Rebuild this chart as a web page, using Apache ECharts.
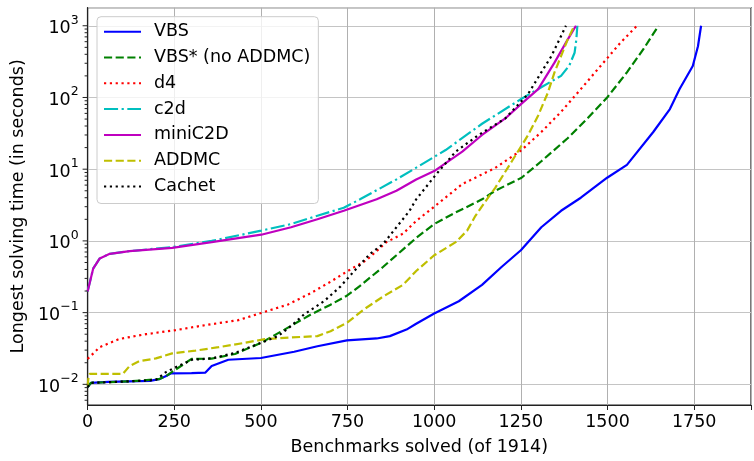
<!DOCTYPE html>
<html>
<head>
<meta charset="utf-8">
<script src="https://cdn.jsdelivr.net/npm/echarts@6/dist/echarts.min.js"></script>
<style>html,body{margin:0;padding:0;background:#fff}#c{width:754px;height:461px}</style>
</head>
<body>
<div id="c"></div>
<script>
const seriesNames = ['VBS', 'VBS* (no ADDMC)', 'd4', 'c2d', 'miniC2D', 'ADDMC', 'Cachet'];
const xTicks = [0, 250, 500, 750, 1000, 1250, 1500, 1750];
const yTicks = [0.01, 0.1, 1, 10, 100, 1000];

const vbs = [[0,0.0092],[10,0.0105],[60,0.0108],[120,0.011],[180,0.0112],[206,0.0118],[225,0.013],[240,0.0142],[300,0.0143],[340,0.0146],[358,0.018],[406,0.022],[500,0.0233],[596,0.0285],[663,0.034],[748,0.041],[834,0.0436],[872,0.047],[920,0.058],[948,0.07],[1000,0.097],[1071,0.144],[1138,0.244],[1195,0.436],[1250,0.74],[1309,1.55],[1366,2.63],[1423,4.0],[1499,7.6],[1556,11.5],[1632,33],[1680,69],[1708,131],[1746,275],[1761,518],[1770,1000]];
const vbsStar = [[0,0.0092],[10,0.0105],[120,0.011],[206,0.0118],[226,0.013],[254,0.0161],[300,0.0226],[358,0.0228],[425,0.0265],[501,0.038],[568,0.058],[644,0.094],[701,0.129],[748,0.172],[786,0.236],[853,0.436],[891,0.63],[948,1.1],[1000,1.72],[1062,2.5],[1090,2.9],[1138,3.8],[1176,5.0],[1252,7.6],[1309,12.9],[1385,27],[1442,51],[1499,100],[1556,224],[1603,467],[1647,1000]];
const d4 = [[0,0.0226],[35,0.033],[92,0.043],[168,0.05],[254,0.057],[340,0.067],[435,0.0785],[501,0.099],[577,0.129],[644,0.187],[701,0.27],[758,0.40],[805,0.54],[862,0.96],[910,1.26],[948,1.9],[1000,3.0],[1081,6.2],[1176,10.4],[1252,18.5],[1309,33],[1366,63],[1423,131],[1480,275],[1537,577],[1585,1000]];
const c2d = [[0,0.197],[16,0.41],[35,0.57],[64,0.66],[121,0.72],[244,0.82],[358,1.0],[501,1.39],[587,1.72],[663,2.24],[739,2.9],[786,3.8],[891,7.2],[948,10.5],[1033,18.5],[1138,43],[1252,96],[1309,139],[1366,200],[1390,280],[1405,420],[1410,640],[1413,1000]];
const miniC2D = [[0,0.197],[16,0.41],[35,0.57],[64,0.66],[121,0.72],[244,0.8],[358,0.96],[501,1.22],[587,1.55],[663,2.0],[739,2.63],[834,3.8],[891,5.0],[948,7.2],[1000,9.4],[1081,17.6],[1138,30],[1205,51],[1252,82],[1300,131],[1347,306],[1385,640],[1409,1000]];
const addmc = [[0,0.0095],[3,0.013],[6,0.014],[102,0.014],[121,0.018],[149,0.021],[197,0.023],[244,0.027],[311,0.0295],[378,0.033],[454,0.038],[511,0.0426],[587,0.045],[663,0.047],[701,0.055],[748,0.072],[796,0.11],[853,0.168],[910,0.244],[948,0.38],[1000,0.63],[1062,0.96],[1095,1.39],[1119,2.24],[1152,3.8],[1176,5.5],[1224,12.9],[1271,30],[1300,56],[1328,117],[1347,224],[1366,377],[1385,640],[1404,1000]];
const cachet = [[0,0.0092],[10,0.0105],[120,0.011],[197,0.0115],[226,0.0148],[254,0.0173],[301,0.022],[358,0.023],[425,0.0274],[501,0.038],[549,0.047],[587,0.065],[624,0.094],[682,0.144],[729,0.23],[767,0.37],[815,0.66],[853,0.91],[891,1.55],[929,2.63],[948,3.8],[1005,8.4],[1062,17.6],[1128,30],[1205,51],[1271,112],[1309,224],[1338,377],[1361,640],[1380,1000]];

const dataList = [vbs, vbsStar, d4, c2d, miniC2D, addmc, cachet];
const colors = ['#0000ff', '#008000', '#ff0000', '#00bfbf', '#bf00bf', '#bfbf00', '#000000'];
const lw = 2.2;
const dashes = ['solid', [3.7*lw, 1.6*lw], [1*lw, 1.65*lw], [6.4*lw, 1.6*lw, 1*lw, 1.6*lw], 'solid', [3.7*lw, 1.6*lw], [1*lw, 1.65*lw]];

// minor tick positions of the log axis (2..9 x 10^k)
const minorTicks = [];
for (let k = -3; k <= 3; k++) for (let m = 2; m <= 9; m++) {
  const v = m * Math.pow(10, k);
  if (v > 0.00515 && v < 1786) minorTicks.push([0, v]);
}
const majorTicks = yTicks.map(v => [0, v]);

const FONT = 'DejaVu Sans';
const chart = echarts.init(document.getElementById('c'), null, {renderer: 'canvas'});
const series = seriesNames.map((n, i) => ({
  name: n, type: 'line', data: dataList[i], showSymbol: false, symbol: 'none',
  lineStyle: {color: colors[i], width: lw, type: dashes[i], cap: 'butt'},
  itemStyle: {color: colors[i]},
  emphasis: {disabled: true}, animation: false, z: 3 + i
}));
function tickSeries(data, len) {
  return {
    type: 'custom', data: data, silent: true, clip: false, z: 20, animation: false,
    renderItem: function (params, api) {
      const p = api.coord([0, api.value(1)]);
      return {type: 'line', shape: {x1: p[0] - len, y1: p[1], x2: p[0], y2: p[1]},
        style: {stroke: '#222', lineWidth: 1}};
    }
  };
}
series.push(tickSeries(minorTicks, 3));
series.push(tickSeries(majorTicks, 5));

chart.setOption({
  animation: false,
  backgroundColor: '#fff',
  grid: {left: 87.6, right: -4.8, top: 7.7, bottom: 51.1, show: true, borderColor: '#222', borderWidth: 1.2, backgroundColor: 'transparent'},
  legend: {
    data: seriesNames, orient: 'vertical', left: 97, top: 16.7,
    padding: [6, 8, 8, 6], itemWidth: 37, itemHeight: 12, itemGap: 7.8,
    itemStyle: {opacity: 0, borderWidth: 0},
    backgroundColor: 'rgba(255,255,255,0.8)', borderColor: '#cccccc', borderWidth: 1, borderRadius: 4,
    textStyle: {fontFamily: FONT, fontSize: 17.5, color: '#000', lineHeight: 18, padding: [0, 0, 0, 8]},
    selectedMode: false
  },
  xAxis: {
    type: 'value', min: 0, max: 1914, interval: 250,
    name: 'Benchmarks solved (of 1914)', nameLocation: 'middle', nameGap: 33,
    nameTextStyle: {fontFamily: FONT, fontSize: 17.5, color: '#000'},
    axisLine: {show: true, onZero: false, lineStyle: {color: '#222', width: 1.2}},
    axisTick: {show: true, length: 5, lineStyle: {color: '#222', width: 1}},
    axisLabel: {fontFamily: FONT, fontSize: 17.5, color: '#000', margin: 8,
      formatter: v => (xTicks.indexOf(v) >= 0 ? String(v) : '')},
    splitLine: {show: true, lineStyle: {color: '#b0b0b0', width: 1}}
  },
  yAxis: {
    type: 'log', logBase: 10, min: 0.00515, max: 1786,
    name: 'Longest solving time (in seconds)', nameLocation: 'middle', nameGap: 58,
    nameTextStyle: {fontFamily: FONT, fontSize: 17.5, color: '#000'},
    axisLine: {show: true, onZero: false, lineStyle: {color: '#222', width: 1.2}},
    axisTick: {show: false},
    axisLabel: {
      margin: 9,
      formatter: function (v) {
        const l = Math.log10(v), e = Math.round(l);
        if (Math.abs(l - e) > 1e-6) return '';
        return '{b|10}{s|' + (e < 0 ? '\u2212' + (-e) : e) + '}';
      },
      rich: {
        b: {fontFamily: FONT, fontSize: 17.5, color: '#000', lineHeight: 24, verticalAlign: 'bottom'},
        s: {fontFamily: FONT, fontSize: 12.5, color: '#000', lineHeight: 14, verticalAlign: 'top'}
      }
    },
    splitLine: {show: true, lineStyle: {color: '#c4c4c4', width: 1.2}}
  },
  series: series
});
</script>
</body>
</html>
